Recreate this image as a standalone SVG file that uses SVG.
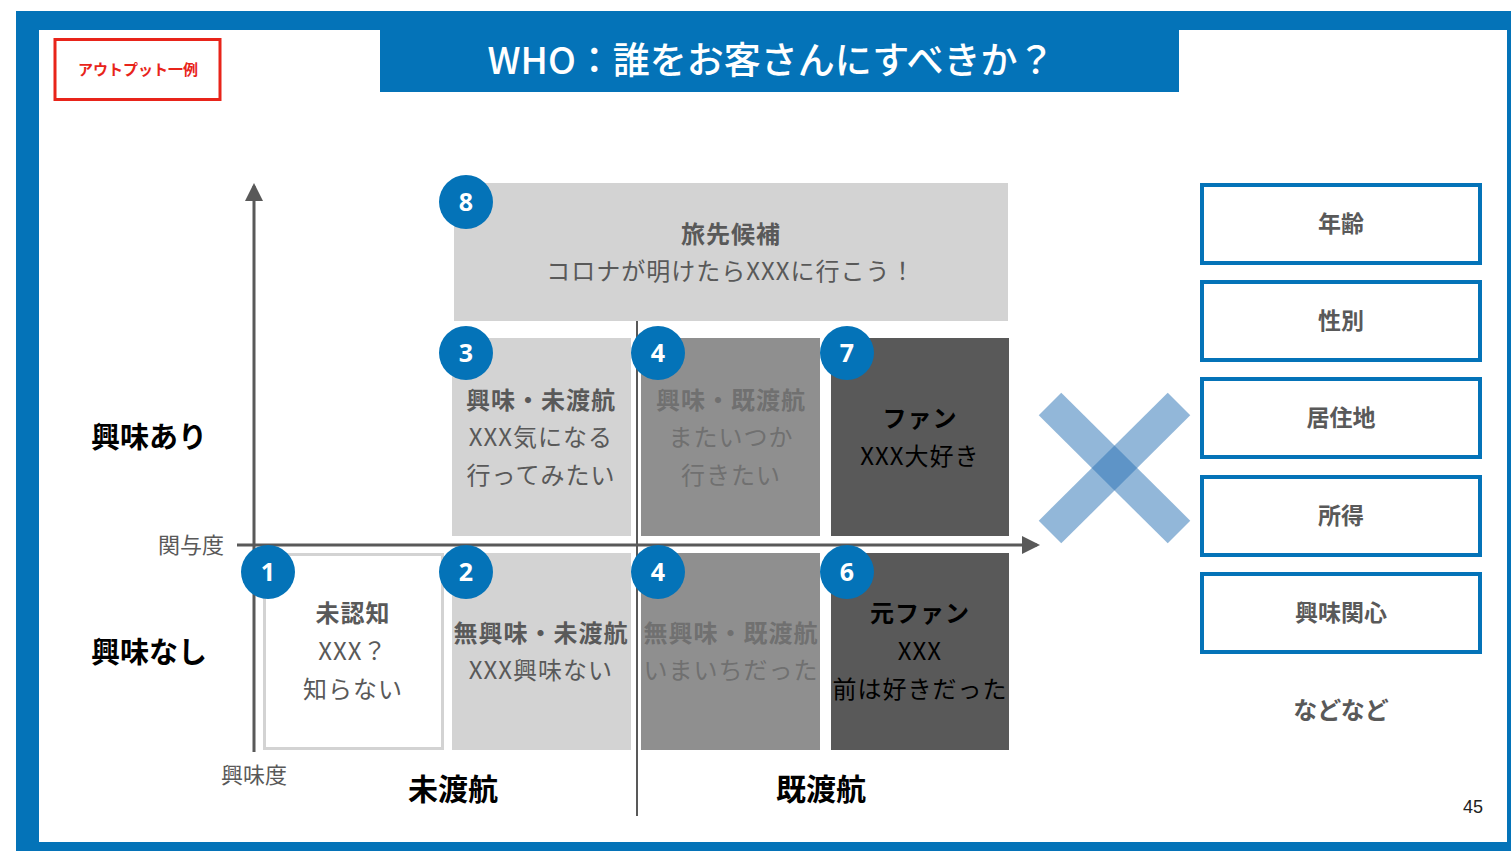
<svg xmlns="http://www.w3.org/2000/svg" width="1511" height="851" viewBox="0 0 1511 851">
<style>
text{font-family:"Noto Sans CJK JP","Noto Sans",sans-serif;dominant-baseline:central;text-anchor:middle}
.b{font-weight:bold}
.t{font-size:24px;letter-spacing:1px}
.g{fill:#595959}
.m{fill:#707070}
.k{fill:#000}
.num{font-family:"Noto Sans","Liberation Sans",sans-serif;font-size:25px;font-weight:bold;fill:#fff}
.badge{fill:#0473b8}
.attr rect{fill:#fff;stroke:#0473b8;stroke-width:4}
.attr text{font-size:23px;font-weight:bold;fill:#595959}
.axis{stroke:#595959;stroke-width:3;fill:none}
</style>
<defs>
<marker id="ah" markerWidth="6" markerHeight="6" refX="5" refY="3" orient="auto" markerUnits="strokeWidth">
<path d="M0,0 L6,3 L0,6 Z" fill="#595959"/>
</marker>
</defs>
<g id="frame">
<rect x="16" y="11" width="1495" height="840" fill="#0473b8"/>
<rect x="39" y="30" width="1468" height="812" fill="#fff"/>
<rect x="380" y="11" width="799" height="81" fill="#0473b8"/>
<text x="771" y="58" style="font-size:37px;fill:#fff;font-weight:500">WHO：誰をお客さんにすべきか？</text>
</g>
<g id="label-example">
<rect x="55" y="39.5" width="165" height="60" fill="#fff" stroke="#e8241a" stroke-width="3"/>
<text x="138" y="68" style="font-size:15px;fill:#e8241a;font-weight:bold">アウトプット一例</text>
</g>
<g id="connectors">
<line x1="637" y1="183" x2="637" y2="816" stroke="#595959" stroke-width="2"/>
<line class="axis" x1="254" y1="752" x2="254" y2="186" marker-end="url(#ah)"/>
<line class="axis" x1="237" y1="545" x2="1037" y2="545" marker-end="url(#ah)"/>
</g>
<g id="axis-labels">
<text x="191" y="543" class="g" style="font-size:22px">関与度</text>
<text x="254" y="773" class="g" style="font-size:22px">興味度</text>
<text x="149" y="435" class="b k" style="font-size:29px">興味あり</text>
<text x="149" y="650" class="b k" style="font-size:29px">興味なし</text>
<text x="453" y="787" class="b k" style="font-size:30px">未渡航</text>
<text x="821" y="787" class="b k" style="font-size:30px">既渡航</text>
</g>
<g id="node-8">
<rect x="454" y="183" width="554" height="138" fill="#d3d3d3"/>
<text x="731" y="232" class="t b g">旅先候補</text>
<text x="731" y="269" class="t g">コロナが明けたらXXXに行こう！</text>
<circle cx="466" cy="202" r="27" class="badge"/><text x="466" y="201" class="num">8</text>
</g>
<g id="node-3">
<rect x="452" y="338" width="179" height="198" fill="#d3d3d3"/>
<text x="541" y="398" class="t b g">興味・未渡航</text>
<text x="541" y="435" class="t g">XXX気になる</text>
<text x="541" y="473" class="t g">行ってみたい</text>
<circle cx="466" cy="353" r="27" class="badge"/><text x="466" y="352" class="num">3</text>
</g>
<g id="node-4a">
<rect x="641" y="338" width="179" height="198" fill="#8f8f8f"/>
<text x="731" y="398" class="t b m">興味・既渡航</text>
<text x="731" y="435" class="t m">またいつか</text>
<text x="731" y="473" class="t m">行きたい</text>
<circle cx="658" cy="353" r="27" class="badge"/><text x="658" y="352" class="num">4</text>
</g>
<g id="node-7">
<rect x="831" y="338" width="178" height="198" fill="#595959"/>
<text x="920" y="416" class="t b k">ファン</text>
<text x="920" y="454" class="t k">XXX大好き</text>
<circle cx="847" cy="353" r="27" class="badge"/><text x="847" y="352" class="num">7</text>
</g>
<g id="node-1">
<rect x="264.5" y="554.5" width="178" height="194" fill="#fff" stroke="#d3d3d3" stroke-width="3"/>
<text x="353" y="611" class="t b g">未認知</text>
<text x="353" y="649" class="t g">XXX？</text>
<text x="353" y="687" class="t g">知らない</text>
<circle cx="268" cy="572" r="27" class="badge"/><text x="268" y="571" class="num">1</text>
</g>
<g id="node-2">
<rect x="452" y="553" width="179" height="197" fill="#d3d3d3"/>
<text x="541" y="631" class="t b g">無興味・未渡航</text>
<text x="541" y="668" class="t g">XXX興味ない</text>
<circle cx="466" cy="572" r="27" class="badge"/><text x="466" y="571" class="num">2</text>
</g>
<g id="node-4b">
<rect x="641" y="553" width="179" height="197" fill="#8f8f8f"/>
<text x="731" y="631" class="t b m">無興味・既渡航</text>
<text x="731" y="668" class="t m">いまいちだった</text>
<circle cx="658" cy="572" r="27" class="badge"/><text x="658" y="571" class="num">4</text>
</g>
<g id="node-6">
<rect x="831" y="553" width="178" height="197" fill="#595959"/>
<text x="920" y="611" class="t b k">元ファン</text>
<text x="920" y="649" class="t k">XXX</text>
<text x="920" y="687" class="t k">前は好きだった</text>
<circle cx="847" cy="572" r="27" class="badge"/><text x="847" y="571" class="num">6</text>
</g>
<g id="cross">
<line x1="1050" y1="404" x2="1179" y2="532" stroke="#2e75b6" stroke-width="32" stroke-opacity="0.52"/>
<line x1="1179" y1="404" x2="1050" y2="532" stroke="#2e75b6" stroke-width="32" stroke-opacity="0.52"/>
</g>
<g id="attr-age" class="attr"><rect x="1202" y="185" width="278" height="78"/><text x="1341" y="222">年齢</text></g>
<g id="attr-gender" class="attr"><rect x="1202" y="282" width="278" height="78"/><text x="1341" y="319">性別</text></g>
<g id="attr-residence" class="attr"><rect x="1202" y="379" width="278" height="78"/><text x="1341" y="416">居住地</text></g>
<g id="attr-income" class="attr"><rect x="1202" y="477" width="278" height="78"/><text x="1341" y="514">所得</text></g>
<g id="attr-interest" class="attr"><rect x="1202" y="574" width="278" height="78"/><text x="1341" y="611">興味関心</text></g>
<g id="etc"><text x="1341" y="708" style="font-size:24px;font-weight:bold;fill:#595959">などなど</text></g>
<g id="page"><text x="1473" y="807" style="font-family:'Liberation Sans',sans-serif;font-size:18px;fill:#222">45</text></g>
</svg>
